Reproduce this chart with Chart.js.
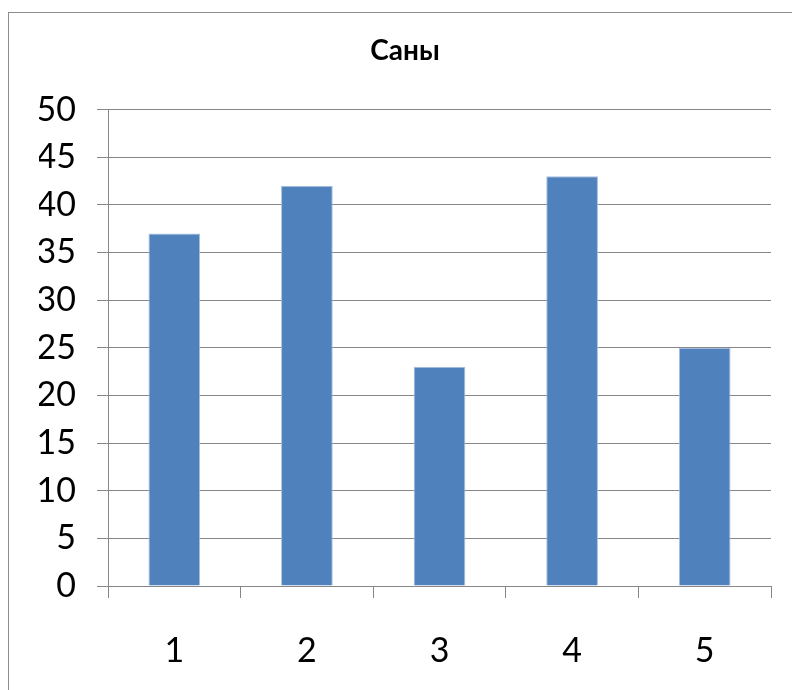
<!DOCTYPE html>
<html>
<head>
<meta charset="utf-8">
<script src="https://cdn.jsdelivr.net/npm/chart.js@4"></script>
<style>
  html, body { margin: 0; padding: 0; background: #fff; overflow: hidden; }
  #wrap { position: relative; width: 792px; height: 690px; }
  #frame { position: absolute; left: 8px; top: 12px; width: 820px; height: 720px;
           border: 1px solid #8c8c8c; box-sizing: border-box; }
  canvas { position: absolute; left: 0; top: 0; }
</style>
</head>
<body>
<div id="wrap">
  <div id="frame"></div>
  <canvas id="c" width="792" height="690"></canvas>
</div>
<script>
const categories = ['1', '2', '3', '4', '5'];
const values = [37, 42, 23, 43, 25];
const titleText = 'Саны';
const yMin = 0, yMax = 50, yStep = 5;

const gridColor = '#878787';
const fontFamily = 'Lato, "Open Sans", sans-serif';

new Chart(document.getElementById('c'), {
  type: 'bar',
  data: {
    labels: categories,
    datasets: [{
      data: values,
      backgroundColor: '#4F81BD',
      borderColor: '#A7C0DE',
      borderWidth: 1,
      categoryPercentage: 1,
      barPercentage: 0.39
    }]
  },
  options: {
    responsive: false,
    animation: false,
    devicePixelRatio: 1,
    layout: { padding: { left: 39, right: 21, top: 0, bottom: 0 } },
    plugins: {
      legend: { display: false },
      tooltip: { enabled: false },
      title: {
        display: true,
        text: titleText,
        color: '#000',
        font: { family: fontFamily, size: 28, weight: 'bold', lineHeight: 1.2 },
        padding: { top: 34, bottom: 42 }
      }
    },
    scales: {
      x: {
        offset: true,
        grid: {
          offset: true,
          drawOnChartArea: false,
          drawTicks: true,
          tickLength: 12,
          color: gridColor,
          lineWidth: 1
        },
        border: { display: true, color: gridColor, width: 1 },
        ticks: {
          color: '#000',
          font: { family: fontFamily, size: 34 },
          padding: 33,
          maxRotation: 0
        },
        afterFit(axis) { axis.height = 104; }
      },
      y: {
        min: yMin,
        max: yMax,
        grid: {
          color: gridColor,
          lineWidth: 1,
          drawTicks: true,
          tickLength: 11
        },
        border: { display: true, color: gridColor, width: 1 },
        ticks: {
          stepSize: yStep,
          color: '#000',
          font: { family: fontFamily, size: 34 },
          padding: 21
        },
        afterFit(axis) { axis.width = 69; }
      }
    }
  }
});
</script>
</body>
</html>
